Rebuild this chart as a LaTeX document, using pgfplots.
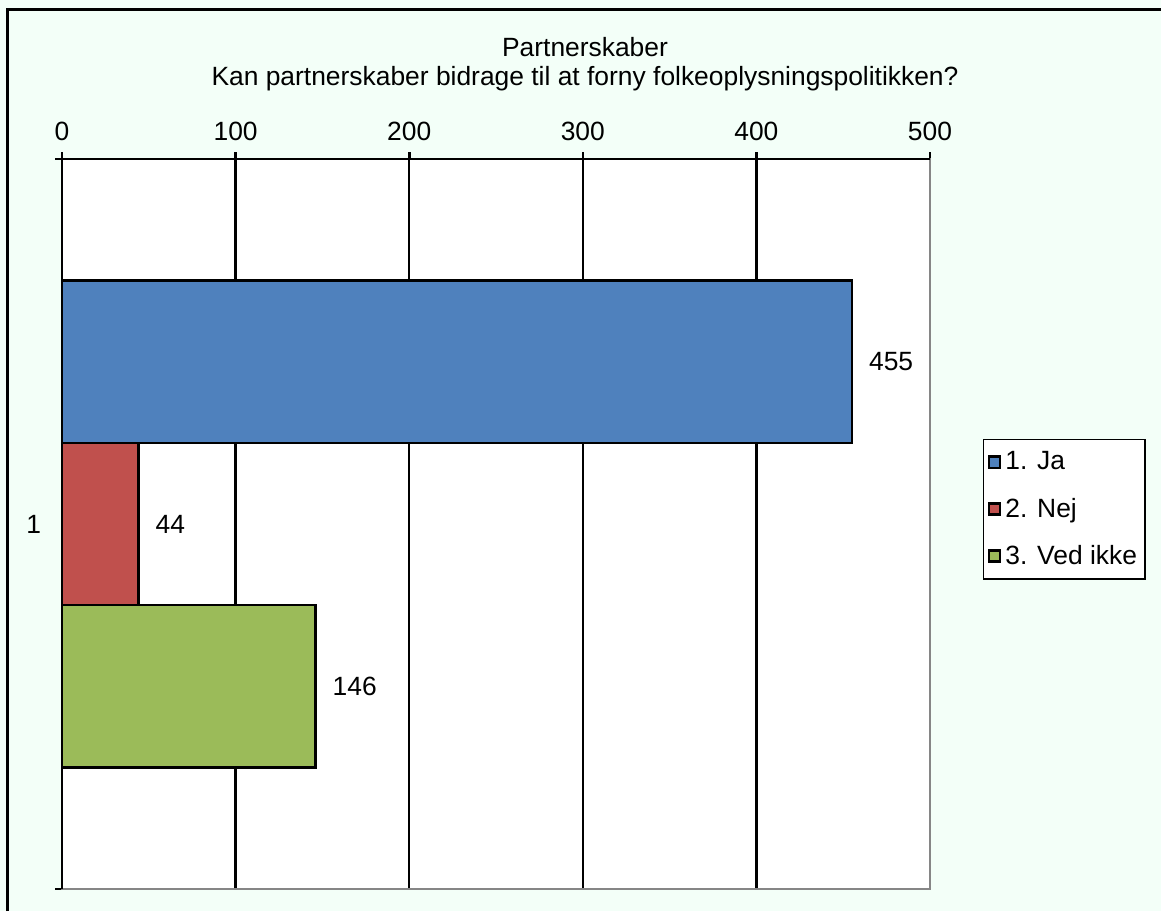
\documentclass[border=0pt]{standalone}
\usepackage{fontspec}
\setmainfont{Liberation Sans}
\usepackage{pgfplots}
\pgfplotsset{compat=1.18}
\definecolor{cbg}{HTML}{F3FFF8}
\definecolor{cja}{HTML}{4F81BD}
\definecolor{cnej}{HTML}{C0504D}
\definecolor{cved}{HTML}{9BBB59}
\definecolor{cframe}{HTML}{868686}
\newcommand{\figfont}{\fontsize{13.2}{15.5}\selectfont}

\begin{document}
\begin{tikzpicture}
% chart area, cropped on the right and at the bottom
\fill[cbg] (0,0) rectangle (580.5pt,455.5pt);
\useasboundingbox (0,0) rectangle (580.5pt,455.5pt);
\draw[black, line width=1.5pt] (3.5pt,0) -- (3.5pt,450.5pt) -- (580.5pt,450.5pt);
\node[font=\figfont, inner sep=0pt] at (292.5pt,432pt) {Partnerskaber};
\node[font=\figfont, inner sep=0pt] at (292.5pt,416pt) {Kan partnerskaber bidrage til at forny folkeoplysningspolitikken?};

\begin{axis}[
  at={(31pt,11pt)}, anchor=south west,
  scale only axis, width=434pt, height=365pt,
  xmin=0, xmax=500, ymin=-2.25, ymax=2.25,
  xbar, bar width=1, bar shift=0pt,
  xtick={0,100,...,500}, xtick pos=upper, xticklabel pos=upper,
  ytick={-2.25,2.25}, yticklabels={}, ytick pos=left,
  extra y ticks={0}, extra y tick labels={1},
  extra y tick style={major tick length=0pt, yticklabel style={xshift=-7pt}},
  tick align=outside, major tick length=3.5pt,
  tick style={black, line width=1.3pt},
  xticklabel style={yshift=2pt},
  xmajorgrids, grid style={black, line width=1.2pt},
  axis line style={cframe, line width=1.4pt},
  axis background/.style={fill=white},
  tick label style={font=\figfont},
  /pgf/number format/assume math mode=true,
  nodes near coords,
  nodes near coords style={font=\figfont, anchor=west, inner sep=0pt, xshift=8pt, text=black},
  every axis plot/.append style={draw=black, line width=1.2pt},
  legend cell align=left,
  legend style={at={(1.061,0.6164)}, anchor=north west, draw=black, line width=0.7pt,
    fill=white, font=\figfont, inner xsep=2pt, inner ysep=4pt, row sep=8.5pt},
  legend image code/.code={\draw[#1, draw=black, line width=1.3pt] (0pt,-2.8pt) rectangle (5.6pt,2.8pt);},
  clip=false,
]
\addplot[fill=cja] coordinates {(455,1)};
\addplot[fill=cnej] coordinates {(44,0)};
\addplot[fill=cved] coordinates {(146,-1)};
\legend{1. Ja, 2. Nej, 3. Ved ikke}
\draw[black, line width=1.4pt] (rel axis cs:0,0) -- (rel axis cs:0,1) -- (rel axis cs:1,1);
\end{axis}
\end{tikzpicture}
\end{document}
